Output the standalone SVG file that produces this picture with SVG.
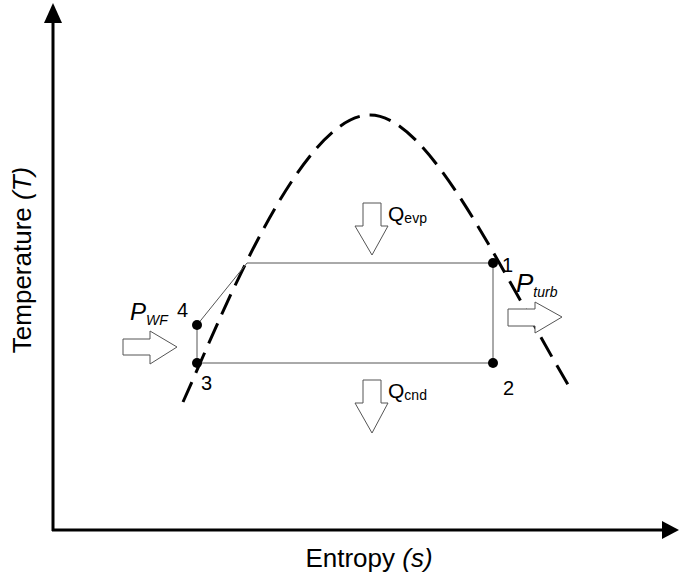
<svg xmlns="http://www.w3.org/2000/svg" width="679" height="578" viewBox="0 0 679 578">
<defs>
<style>
.axis{stroke:#000;stroke-width:3;fill:none}
.thin{stroke:#555;stroke-width:1;fill:none}
.dome{stroke:#000;stroke-width:3;fill:none;stroke-dasharray:22 10}
.pt{fill:#000}
.harrow{fill:#fff;stroke:#555;stroke-width:1}
.t{font-family:"Liberation Sans",Arial,sans-serif;fill:#000}
</style>
</defs>
<rect width="679" height="578" fill="#fff"/>
<g id="axes">
<line class="axis" x1="53" y1="531" x2="53" y2="20"/>
<polygon points="53,3 44,23 62,23" fill="#000"/>
<line class="axis" x1="52" y1="530" x2="662" y2="530"/>
<polygon points="679,530 662,521 662,539" fill="#000"/>
<text class="t" x="369" y="567" font-size="26" text-anchor="middle">Entropy <tspan font-style="italic">(s)</tspan></text>
<text class="t" transform="translate(31,260) rotate(-90)" font-size="26" text-anchor="middle">Temperature <tspan font-style="italic">(T)</tspan></text>
</g>
<g id="dome">
<path class="dome" d="M183,402 C220,320 300,115 370,115 C430,115 500,270 570,388"/>
</g>
<g id="connectors">
<line class="thin" x1="247" y1="263" x2="493" y2="263"/>
<line class="thin" x1="493" y1="263" x2="493" y2="363"/>
<line class="thin" x1="197" y1="363" x2="493" y2="363"/>
<line class="thin" x1="197" y1="325" x2="197" y2="363"/>
<line class="thin" x1="197" y1="325" x2="247" y2="263"/>
</g>
<g id="p1"><circle class="pt" cx="493" cy="263" r="5"/><text class="t" x="502" y="272" font-size="20">1</text></g>
<g id="p2"><circle class="pt" cx="493" cy="363" r="5"/><text class="t" x="503" y="395" font-size="20">2</text></g>
<g id="p3"><circle class="pt" cx="197" cy="363" r="5"/><text class="t" x="201" y="390" font-size="20">3</text></g>
<g id="p4"><circle class="pt" cx="197" cy="325" r="5"/><text class="t" x="177" y="317" font-size="20">4</text></g>
<g id="qevp">
<polygon class="harrow" points="363,203 381,203 381,226 388,226 372,255 355,226 363,226"/>
<text class="t" x="388" y="221" font-size="21">Q<tspan font-size="14" dy="2">evp</tspan></text>
</g>
<g id="qcnd">
<polygon class="harrow" points="363,380 381,380 381,403 388,403 372,433 355,403 363,403"/>
<text class="t" x="388" y="398" font-size="21">Q<tspan font-size="14" dy="2">cnd</tspan></text>
</g>
<g id="pwf">
<polygon class="harrow" points="123,339 150,339 150,331 177,347 150,364 150,355 123,355"/>
<text class="t" x="130" y="320" font-size="24" font-style="italic">P<tspan font-size="14" dy="5">WF</tspan></text>
</g>
<g id="pturb">
<polygon class="harrow" points="508,309 535,309 535,302 562,317 535,333 535,326 508,326"/>
<text class="t" x="516" y="292" font-size="26" font-style="italic">P<tspan font-size="14" dy="5">turb</tspan></text>
</g>
</svg>
